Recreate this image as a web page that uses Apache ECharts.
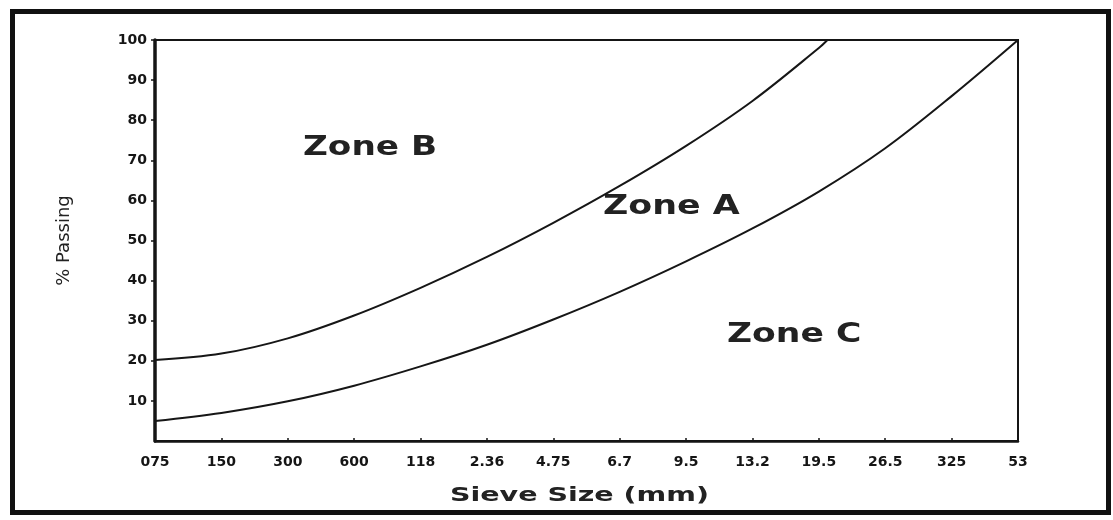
<!DOCTYPE html>
<html>
<head>
<meta charset="utf-8">
<script src="https://cdn.jsdelivr.net/npm/echarts@6/dist/echarts.min.js"></script>
<style>
html,body{margin:0;padding:0;background:#fff;}
#chart{width:1113px;height:520px;}
</style>
</head>
<body>
<div id="chart"></div>
<script>
// Sieve sizes (tick labels as printed)
var sieveLabels = ['075','150','300','600','118','2.36','4.75','6.7','9.5','13.2','19.5','26.5','325','53'];
// Upper boundary (Zone B / Zone A), % passing at each sieve until it leaves the top
var upperValues = [20.2, 21.8, 25.6, 31.3, 38.2, 45.9, 54.4, 63.6, 73.6, 84.8, 98.0];
// where the upper boundary meets 100 % (position between 19.5 and 26.5)
var upperEndPos = 10.13;
var upperEndValue = 100;
// Lower boundary (Zone A / Zone C)
var lowerValues = [5.0, 7.0, 9.9, 13.8, 18.6, 24.0, 30.3, 37.2, 44.8, 53.0, 62.2, 73.0, 86.0, 100];
var yTicks = [0, 100, 10];
var zoneNames = ['Zone B', 'Zone A', 'Zone C'];
var axisTitles = ['Sieve Size (mm)', '% Passing'];

var upperData = upperValues.map(function (v, i) { return [i, v]; });
upperData.push([upperEndPos, upperEndValue]);
var lowerData = lowerValues.map(function (v, i) { return [i, v]; });

var chart = echarts.init(document.getElementById('chart'), null, {renderer: 'canvas'});
var labelFont = {color: '#151515', fontFamily: 'DejaVu Sans', fontWeight: 'bold', fontSize: 14};
var zoneFont = 'bold 27px "DejaVu Sans"';
chart.setOption({
  backgroundColor: '#fff',
  animation: false,
  grid: {left: 155, right: 95, top: 40, bottom: 79, show: true, borderColor: '#151515', borderWidth: 2, backgroundColor: 'transparent'},
  xAxis: {
    type: 'value', min: 0, max: sieveLabels.length - 1, interval: 1,
    axisLine: {show: true, lineStyle: {color: '#151515', width: 2.5}},
    axisTick: {show: true, length: 3, inside: true, lineStyle: {color: '#151515', width: 1.5}},
    splitLine: {show: false},
    axisLabel: Object.assign({margin: 14, formatter: function (v) { return sieveLabels[Math.round(v)]; }}, labelFont)
  },
  yAxis: {
    type: 'value', min: yTicks[0], max: yTicks[1], interval: yTicks[2],
    name: axisTitles[1], nameLocation: 'middle', nameGap: 82, nameRotate: 90,
    nameTextStyle: {color: '#222', fontFamily: 'DejaVu Sans', fontSize: 18},
    axisLine: {show: true, lineStyle: {color: '#151515', width: 3.5}},
    axisTick: {show: true, length: 4, lineStyle: {color: '#151515', width: 1.5}},
    splitLine: {show: false},
    axisLabel: Object.assign({margin: 8, showMinLabel: false, formatter: function (v) { return v === 0 ? '' : String(v); }}, labelFont, {fontSize: 14})
  },
  series: [
    {type: 'line', data: upperData, smooth: 0.35, showSymbol: false, clip: true,
     lineStyle: {color: '#161616', width: 2}},
    {type: 'line', data: lowerData, smooth: 0.35, showSymbol: false, clip: true,
     lineStyle: {color: '#161616', width: 2}}
  ],
  graphic: [
    {type: 'rect', shape: {x: 12.5, y: 11.5, width: 1096, height: 501}, style: {fill: 'none', stroke: '#111', lineWidth: 5}, silent: true},
    {type: 'text', x: 303, y: 148, scaleX: 1.27, style: {text: zoneNames[0], fill: '#222', font: zoneFont, textVerticalAlign: 'middle'}},
    {type: 'text', x: 603, y: 207, scaleX: 1.29, style: {text: zoneNames[1], fill: '#222', font: zoneFont, textVerticalAlign: 'middle'}},
    {type: 'text', x: 727, y: 335, scaleX: 1.28, style: {text: zoneNames[2], fill: '#222', font: zoneFont, textVerticalAlign: 'middle'}},
    {type: 'text', x: 450, y: 496, scaleX: 1.5, style: {text: axisTitles[0], fill: '#222', font: 'bold 19px "DejaVu Sans"', textVerticalAlign: 'middle'}}
  ]
});
</script>
</body>
</html>
